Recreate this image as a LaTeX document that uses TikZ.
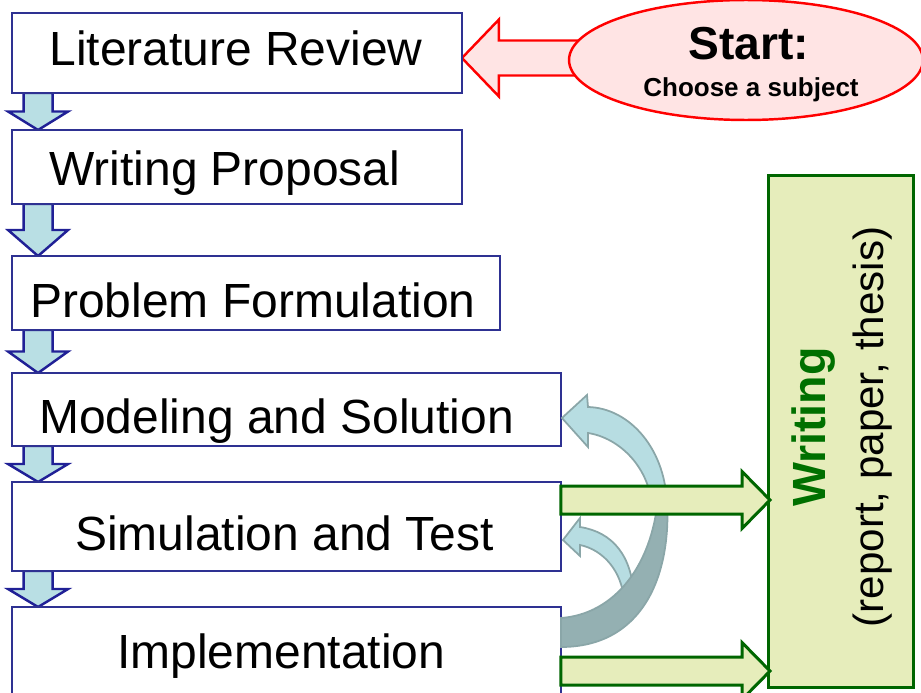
\documentclass[tikz,border=0pt]{standalone}
\usepackage{fontspec}
\setmainfont{Liberation Sans}
\usetikzlibrary{calc,shapes.geometric,backgrounds}

\definecolor{boxblue}{RGB}{46,49,146}
\definecolor{dnblue}{RGB}{32,32,150}
\definecolor{dnfill}{RGB}{185,223,228}
\definecolor{loopfill}{RGB}{183,221,226}
\definecolor{loopdark}{RGB}{148,176,178}
\definecolor{loopline}{RGB}{138,166,168}
\definecolor{wrgreen}{RGB}{0,102,0}
\definecolor{wrfill}{RGB}{230,237,187}
\definecolor{wrtext}{RGB}{0,112,0}
\definecolor{startfill}{RGB}{255,228,228}

% fleche vers le bas entre deux boites
\newcommand{\dnarrow}[2]{%
  \coordinate (s) at ($(#1.south west)+(26,0)$);
  \coordinate (t) at ($(#2.north west)+(26,0)$);
  \coordinate (m) at ($(s)!0.5!(t)$);
  \draw[dnarr] ($(s)+(-14.5,0)$) -- ($(m)+(-14.5,0)$) -- ($(m)+(-30,0)$) -- (t)
    -- ($(m)+(30,0)$) -- ($(m)+(14.5,0)$) -- ($(s)+(14.5,0)$) -- cycle;}

% fleche vers la droite (vers Writing)
\newcommand{\rtarrow}[2]{%
  \draw[outarr] ($(#1)+(0,-14)$) -- ($(#2)+(-28,-14)$) -- ($(#2)+(-28,-28.5)$) -- (#2)
    -- ($(#2)+(-28,28.5)$) -- ($(#2)+(-28,14)$) -- ($(#1)+(0,14)$) -- cycle;}

\begin{document}
\begin{tikzpicture}[x=0.02cm,y=-0.02cm,
  box/.style={draw=boxblue,line width=1.4pt,fill=white,inner sep=0pt,outer sep=0pt},
  txt/.style={inner sep=0pt,anchor=base west,font=\fontsize{27.3}{32}\selectfont},
  dnarr/.style={draw=dnblue,fill=dnfill,line width=1.4pt},
  outarr/.style={draw=wrgreen,fill=wrfill,line width=1.7pt},
  backarr/.style={draw=loopline,fill=loopfill,line width=1pt}]
\useasboundingbox (0,0) rectangle (921,693);
\clip (0,0) rectangle (921,693);

% les etapes
\node[box,minimum width=9cm,minimum height=1.6cm] (lit) at (237,53) {};
\node[box,minimum width=9cm,minimum height=1.48cm] (wp) at (237,167) {};
\node[box,minimum width=9.76cm,minimum height=1.48cm] (pf) at (256,293) {};
\node[box,minimum width=10.98cm,minimum height=1.46cm] (ms) at (286.5,409.5) {};
\node[box,minimum width=10.98cm,minimum height=1.78cm] (st) at (286.5,526.5) {};
\node[box,minimum width=10.98cm,minimum height=2.26cm] (impl) at (286.5,663.5) {};

\node[txt] (litT) at (49,66) {Literature Review};
\node[txt] (wpT) at (49,185) {Writing Proposal};
\node[txt] (pfT) at (30,317) {Problem Formulation};
\node[txt] (msT) at (39,433) {Modeling and Solution};
\node[txt] (stT) at (75,550) {Simulation and Test};
\node[txt] (implT) at (117,668) {Implementation};

% depart
\node[ellipse,draw=red,line width=1.4pt,fill=startfill,minimum width=7.08cm,
  minimum height=2.4cm,inner sep=0pt] (start) at (746,60) {};
\node[inner sep=0pt,anchor=base,font=\bfseries\fontsize{26.3}{30}\selectfont]
  (startT) at (749,59) {Start:};
\node[inner sep=0pt,anchor=base,font=\bfseries\fontsize{14.8}{17}\selectfont]
  (subjT) at (751,96) {Choose a subject};

% redaction
\node[draw=wrgreen,fill=wrfill,line width=1.7pt,minimum width=2.92cm,
  minimum height=10.26cm,inner sep=0pt,outer sep=0pt] (wr) at (841,431.5) {};
\node[rotate=90,anchor=base,inner sep=0pt,text=wrtext,
  font=\bfseries\fontsize{26.5}{30}\selectfont] (wrT) at (825,427) {Writing};
\node[rotate=90,anchor=base,inner sep=0pt,font=\fontsize{24}{28}\selectfont]
  (wrS) at (883,427) {(report, paper, thesis)};

\begin{scope}[on background layer]
  \dnarrow{lit}{wp}
  \dnarrow{wp}{pf}
  \dnarrow{pf}{ms}
  \dnarrow{ms}{st}
  \dnarrow{st}{impl}
  \coordinate (litIn) at ($(lit.east)+(0,5)$);
  \coordinate (startOut) at ($(start.west |- litIn)+(40,0)$);
  \draw[draw=red,fill=startfill,line width=1.4pt] (litIn) -- ($(litIn)+(37,-38.5)$)
    -- ($(litIn)+(37,-17.5)$) -- ($(startOut)+(0,-17.5)$) -- ($(startOut)+(0,17.5)$)
    -- ($(litIn)+(37,17.5)$) -- ($(litIn)+(37,38.5)$) -- cycle;
\end{scope}

% boucles de retour
\coordinate (msIn) at ($(ms.east)+(1,8.5)$);
\coordinate (stIn) at ($(st.east)+(2,13.5)$);
\coordinate (implOut) at ($(impl.north east)+(0,11)$);
\draw[backarr] (580,527) .. controls (612,532) and (633,555) .. (634,600) -- (624,600)
  .. controls (622,572) and (604,550) .. (580,545) -- (580,556) -- (stIn) -- (580,518) -- cycle;
\draw[backarr,fill=loopdark] ($(implOut)+(0,29)$) .. controls (640,647) and (672,580) .. (667,498)
  -- (658,498) .. controls (652,565) and (615,614) .. (implOut) -- cycle;
\draw[backarr] (667,508) .. controls (667,450) and (630,408) .. (588,407) -- (587,395) -- (msIn)
  -- (588,447) -- (588,433) .. controls (620,438) and (650,468) .. (652,508) -- cycle;

% vers Writing
\coordinate (stOut) at ($(st.north east)+(0,18)$);
\coordinate (wrIn1) at ($(stOut -| wr.west)+(2,0)$);
\rtarrow{stOut}{wrIn1}
\coordinate (implOut2) at ($(impl.north east)+(0,64)$);
\coordinate (wrIn2) at ($(implOut2 -| wr.west)+(2,0)$);
\rtarrow{implOut2}{wrIn2}
\end{tikzpicture}
\end{document}
